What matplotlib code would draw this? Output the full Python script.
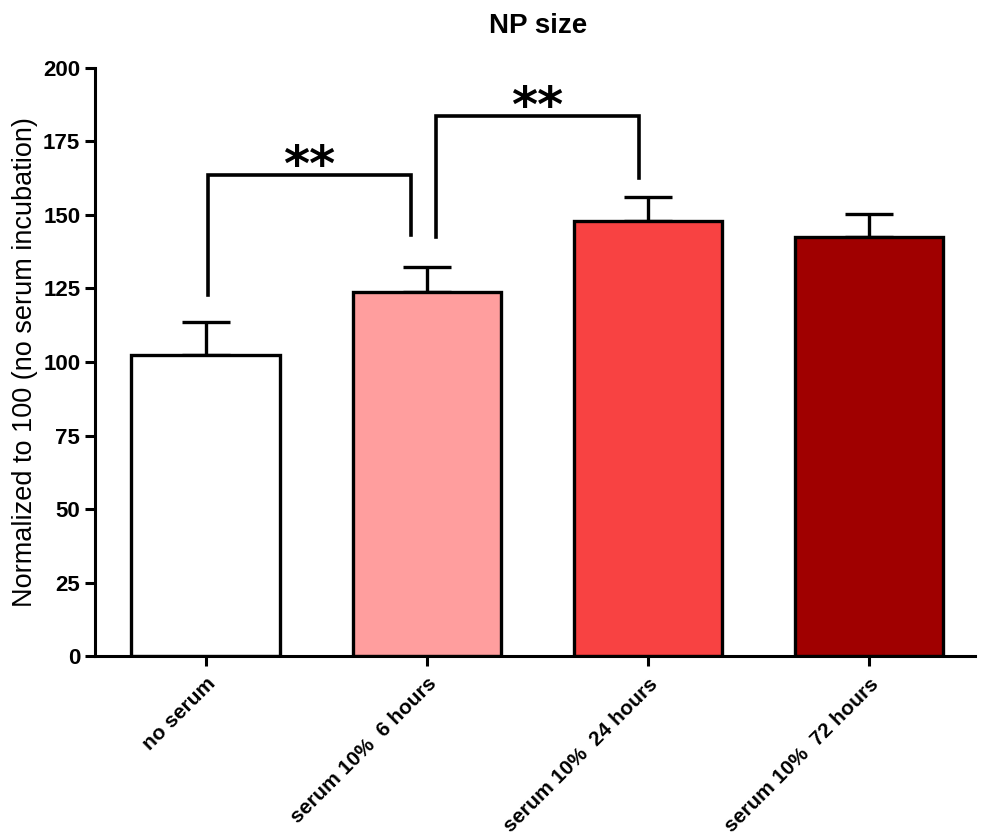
import matplotlib
matplotlib.use("Agg")
import matplotlib.pyplot as plt

categories = ["no serum", "serum 10%  6 hours", "serum 10%  24 hours", "serum 10%  72 hours"]
means = [102.3, 123.8, 148.0, 142.6]
errors = [11.3, 8.5, 8.1, 7.7]
colors = ["#FFFFFF", "#FF9E9E", "#F84242", "#A00000"]
yticks = [0, 25, 50, 75, 100, 125, 150, 175, 200]

# significance brackets: (x_left, x_right, y_left_bottom, y_right_bottom, y_top, label)
brackets = [
    (0.01, 0.93, 122.8, 143.2, 163.6, "**"),
    (1.04, 1.96, 142.5, 162.6, 183.7, "**"),
]

plt.rcParams['font.family'] = ['Liberation Sans', 'DejaVu Sans']

fig = plt.figure(figsize=(9.83, 8.38), dpi=100)
ax = fig.add_axes([0.0966, 0.217, 0.8954, 0.702])

x = list(range(len(categories)))
ax.bar(x, means, width=0.67, color=colors, edgecolor="black", linewidth=2.4, zorder=2)
ax.errorbar(x, means, yerr=[[0]*len(errors), errors], fmt="none", ecolor="black",
            elinewidth=2.4, capsize=17, capthick=2.4, zorder=1)

for xl, xr, yl, yr, yt, lab in brackets:
    ax.plot([xl, xl, xr, xr], [yl, yt, yt, yr], color="black", lw=2.6,
            solid_joinstyle="miter", clip_on=False)
    ax.text((xl + xr) / 2, yt - 5.5, lab, ha="center", va="bottom",
            fontsize=36, fontweight="bold", family="DejaVu Sans")

ax.set_xlim(-0.5, 3.48)
ax.set_ylim(0, 200)
ax.set_yticks(yticks)
ax.set_xticks(x)
ax.set_xticklabels(categories, rotation=45, ha="right", rotation_mode="anchor",
                   fontsize=15, fontweight="bold")
for lbl in ax.get_yticklabels():
    lbl.set_fontweight("bold")
    lbl.set_fontsize(16)

ax.spines["top"].set_visible(False)
ax.spines["right"].set_visible(False)
ax.spines["left"].set_linewidth(2.2)
ax.spines["bottom"].set_linewidth(2.2)
ax.tick_params(axis="both", direction="out", width=2.2, length=7)
ax.tick_params(axis="x", pad=6)

ax.set_ylabel("Normalized to 100 (no serum incubation)", fontsize=19.5, labelpad=4)
fig.text(0.547, 0.985, "NP size", ha="center", va="top", fontsize=20, fontweight="bold")

fig.savefig("out.png", dpi=100)
